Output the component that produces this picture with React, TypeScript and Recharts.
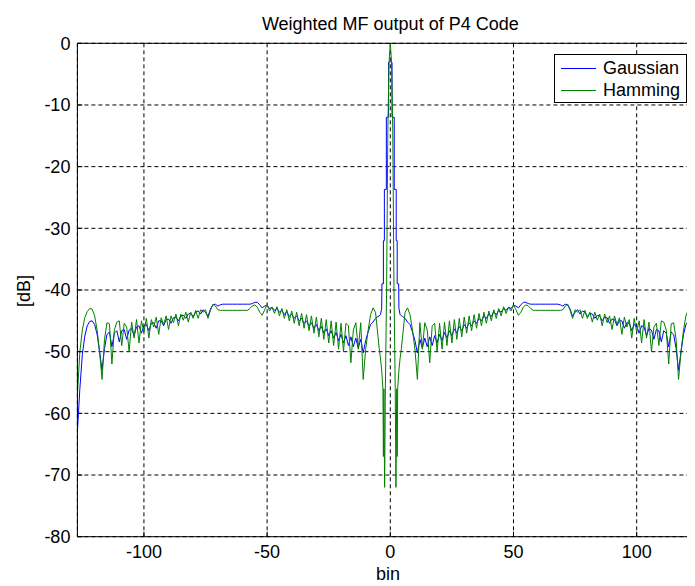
import React from "react";
import {
  CartesianGrid,
  Line,
  LineChart,
  ReferenceLine,
  XAxis,
  YAxis,
} from "recharts";

// integer bins away from the main lobe
const range = (a: number, b: number) =>
  Array.from({ length: b - a + 1 }, (_, i) => a + i);
const leftBins = range(-127, -5);
const rightBins = range(5, 127);

const xTicks = [-100, -50, 0, 50, 100];
const yTicks = [-80, -70, -60, -50, -40, -30, -20, -10, 0];

// Gaussian weighting, bins -127..-5
const gaussLeft = [
  -63, -56, -50.5, -47.5, -45.8, -45.1, -45.0, -45.6, -47.2, -50.0,
  -53.0, -49.5, -47.2, -46.8, -49.2, -47.0, -46.6, -48.4, -46.6, -46.4,
  -48.0, -46.5, -46.2, -47.4, -46.0, -45.8, -47.0, -45.8, -45.6, -46.6,
  -45.4, -45.3, -46.2, -45.0, -45.0, -45.8, -44.8, -44.7, -45.4, -44.5,
  -44.4, -45.0, -44.2, -44.1, -44.6, -43.9, -43.8, -44.3, -43.6, -43.4,
  -43.9, -43.2, -43.6, -44.3, -43.1, -42.4, -42.3, -42.6, -42.4, -42.3,
  -42.3, -42.3, -42.3, -42.3, -42.3, -42.3, -42.3, -42.3, -42.3, -42.3,
  -42.3, -42.2, -42.0, -42.0, -42.4, -42.9, -42.6, -42.5, -43.0, -42.8,
  -43.3, -43.0, -43.6, -43.3, -44.0, -43.5, -44.3, -43.9, -44.6, -44.2,
  -45.0, -44.6, -45.4, -45.0, -45.8, -45.3, -46.2, -45.6, -46.6, -45.9,
  -47.0, -46.3, -47.4, -46.6, -47.8, -46.9, -48.2, -47.2, -48.6, -47.4,
  -49.0, -47.6, -49.2, -47.8, -49.4, -48.0, -50.2, -48.2, -46.8, -45.6,
  -45.2, -44.6, -44.3,
];

// Gaussian main lobe (fine steps)
const gaussCoreBins = [
  -4.5, -4, -3.5, -3.4, -2.8, -2.8, -2.4, -2.4, -1.6, -1.6, -0.7, -0.7, 0,
  0.7, 0.7, 1.6, 1.6, 2.4, 2.4, 2.8, 2.8, 3.4, 3.5, 4, 4.5,
];
const gaussCore = [
  -44.2, -44.0, -43.0, -39.0, -39.0, -32.0, -32.0, -23.7, -23.7, -12.0,
  -12.0, -3.1, -3.0, -3.1, -12.0, -12.0, -23.7, -23.7, -32.0, -32.0, -39.0,
  -39.0, -43.0, -44.0, -44.2,
];

// Gaussian, bins 5..127
const gaussRight = [
  -44.3, -44.6, -45.2,
  -45.6, -46.8, -48.2, -50.2, -48.0, -49.4, -47.8, -49.2, -47.6, -49.0,
  -47.4, -48.6, -47.2, -48.2, -46.9, -47.8, -46.6, -47.4, -46.3, -47.0,
  -45.9, -46.6, -45.6, -46.2, -45.3, -45.8, -45.0, -45.4, -44.6, -45.0,
  -44.2, -44.6, -43.9, -44.3, -43.5, -44.0, -43.3, -43.6, -43.0, -43.3,
  -42.8, -43.0, -42.5, -42.6, -42.9, -42.4, -42.0, -42.0, -42.2, -42.3,
  -42.3, -42.3, -42.3, -42.3, -42.3, -42.3, -42.3, -42.3, -42.3, -42.3,
  -42.3, -42.4, -42.6, -42.3, -42.4, -43.1, -44.3, -43.6, -43.2, -43.9,
  -43.4, -43.6, -44.3, -43.8, -43.9, -44.6, -44.1, -44.2, -45.0, -44.4,
  -44.5, -45.4, -44.7, -44.8, -45.8, -45.0, -45.0, -46.2, -45.3, -45.4,
  -46.6, -45.6, -45.8, -47.0, -45.8, -46.0, -47.4, -46.2, -46.5, -48.0,
  -46.4, -46.6, -48.4, -46.6, -47.0, -49.2, -46.8, -47.2, -49.5, -53.0,
  -50.0, -47.2, -45.6, -45.0, -45.1, -45.8, -47.5, -50.5, -56, -63,
];

// Hamming weighting, bins -127..-5
const hammLeft = [
  -57, -50, -46.5, -44.5, -43.5, -43.0, -43.1, -44.2, -46.5, -50.0,
  -54.5, -48.0, -45.3, -45.5, -52.0, -46.5, -45.2, -45.0, -49.0, -45.4,
  -46.0, -50.0, -45.2, -47.8, -44.8, -48.6, -45.0, -46.8, -44.6, -47.8,
  -44.8, -46.0, -44.4, -47.2, -44.5, -45.6, -44.2, -46.4, -44.2, -45.3,
  -43.9, -45.8, -43.9, -44.9, -43.6, -45.2, -43.6, -44.6, -43.3, -44.6,
  -43.2, -43.6, -43.2, -44.6, -43.3, -42.3, -42.6, -43.2, -43.3, -43.3,
  -43.3, -43.3, -43.3, -43.3, -43.3, -43.3, -43.3, -43.3, -43.3, -43.3,
  -43.0, -42.6, -42.4, -42.8, -43.6, -44.1, -43.2, -42.4, -43.4, -42.8,
  -43.8, -42.7, -44.2, -43.0, -44.6, -43.2, -45.0, -43.4, -45.4, -43.6,
  -45.8, -43.8, -46.2, -44.0, -46.6, -44.2, -47.0, -44.4, -47.6, -44.6,
  -48.0, -44.8, -48.6, -45.0, -49.0, -45.2, -49.6, -45.4, -50.0, -45.4,
  -45.8, -51.8, -46.5, -45.3, -49.6, -45.3, -54.5, -49.6, -46.5, -44.0,
  -42.9, -43.6, -47.5,
];

// Hamming main lobe and nulls
const hammCoreBins = [
  -4.5, -4, -3.5, -3, -2.8, -2.6, -2.3, -2, -1.5, -1, -0.5, 0, 0.5, 1, 1.5,
  2, 2.3, 2.6, 2.8, 3, 3.5, 4, 4.5,
];
const hammCore = [
  -49.5, -51, -53, -56, -67, -56, -72, -56, -40, -14, -3, 0, -3, -14, -40,
  -56, -72, -56, -67, -56, -53, -51, -49.5,
];

// Hamming, bins 5..127
const hammRight = [
  -47.5, -43.6, -42.9,
  -44.0, -46.5, -49.6, -54.5, -45.3, -49.6, -45.3, -46.5, -51.8, -45.8,
  -45.4, -50.0, -45.4, -49.6, -45.2, -49.0, -45.0, -48.6, -44.8, -48.0,
  -44.6, -47.6, -44.4, -47.0, -44.2, -46.6, -44.0, -46.2, -43.8, -45.8,
  -43.6, -45.4, -43.4, -45.0, -43.2, -44.6, -43.0, -44.2, -42.7, -43.8,
  -42.8, -43.4, -42.4, -43.2, -44.1, -43.6, -42.8, -42.4, -42.6, -43.0,
  -43.3, -43.3, -43.3, -43.3, -43.3, -43.3, -43.3, -43.3, -43.3, -43.3,
  -43.3, -43.3, -43.2, -42.6, -42.3, -43.3, -44.6, -43.2, -43.6, -43.2,
  -44.6, -43.3, -44.6, -43.6, -45.2, -43.6, -44.9, -43.9, -45.8, -43.9,
  -45.3, -44.2, -46.4, -44.2, -45.6, -44.5, -47.2, -44.4, -46.0, -44.8,
  -47.8, -44.6, -46.8, -45.0, -48.6, -44.8, -47.8, -45.2, -50.0, -46.0,
  -45.4, -49.0, -45.0, -45.2, -46.5, -52.0, -45.5, -45.3, -48.0, -54.5,
  -50.0, -46.5, -44.2, -43.1, -43.0, -43.5, -44.5, -46.5, -50, -57,
];

const toRows = (bins: number[], vals: number[]) =>
  bins.map((bin, i) => ({ bin, db: vals[i] }));

const gaussData = [
  ...toRows(leftBins, gaussLeft),
  ...toRows(gaussCoreBins, gaussCore),
  ...toRows(rightBins, gaussRight),
];
const hammData = [
  ...toRows(leftBins, hammLeft),
  ...toRows(hammCoreBins, hammCore),
  ...toRows(rightBins, hammRight),
];

const FONT = "'Liberation Sans', Arial, sans-serif";
const BLUE = "#0000ff";
const GREEN = "#008000";

const LegendBox = () => (
  <div
    style={{
      position: "absolute",
      left: 546,
      top: 46,
      width: 133,
      height: 49,
      border: "1px solid #000",
      background: "#fff",
      fontFamily: FONT,
      fontSize: 18,
      color: "#000",
      boxSizing: "border-box",
      paddingTop: 2,
    }}
  >
    {[
      { name: "Gaussian", color: BLUE },
      { name: "Hamming", color: GREEN },
    ].map((s) => (
      <div key={s.name} style={{ display: "flex", alignItems: "center", height: 22 }}>
        <div
          style={{ width: 35, height: 1, background: s.color, marginLeft: 6, marginRight: 7 }}
        />
        <span>{s.name}</span>
      </div>
    ))}
  </div>
);

export default function App() {
  return (
    <div style={{ position: "relative", width: 687, height: 578, overflow: "hidden" }}>
      <LineChart
        width={720}
        height={578}
        margin={{ top: 35.3, right: 24.8, bottom: 19.3, left: 9.4 }}
        style={{ fontFamily: FONT }}
      >
        <CartesianGrid stroke="#000" strokeDasharray="4 3" />
        <XAxis
          type="number"
          dataKey="bin"
          domain={[-127, 127]}
          ticks={xTicks}
          allowDataOverflow
          height={30}
          stroke="#000"
          tickSize={-5}
          tickMargin={14}
          tick={{ fill: "#000", fontSize: 18 }}
        />
        <XAxis
          xAxisId="top"
          orientation="top"
          type="number"
          domain={[-127, 127]}
          ticks={xTicks}
          height={0}
          stroke="#000"
          tickSize={-5}
          tick={false}
        />
        <YAxis
          type="number"
          domain={[-80, 0]}
          ticks={yTicks}
          width={60}
          stroke="#000"
          tickSize={-5}
          tickMargin={12}
          tick={{ fill: "#000", fontSize: 18 }}
        />
        <Line
          data={gaussData}
          dataKey="db"
          type="linear"
          stroke={BLUE}
          strokeWidth={1}
          dot={false}
          isAnimationActive={false}
        />
        <Line
          data={hammData}
          dataKey="db"
          type="linear"
          stroke={GREEN}
          strokeWidth={1}
          dot={false}
          isAnimationActive={false}
        />
        <ReferenceLine y={0} stroke="#000" />
        <text x={382.3} y={22} textAnchor="middle" fontSize={18} fill="#000" fontFamily={FONT}>
          Weighted MF output of P4 Code
        </text>
        <text
          x={15.5}
          y={283}
          textAnchor="middle"
          dominantBaseline="central"
          fontSize={18}
          fill="#000"
          fontFamily={FONT}
          transform="rotate(-90 15.5 283)"
        >
          [dB]
        </text>
        <text x={380} y={572} textAnchor="middle" fontSize={18} fill="#000" fontFamily={FONT}>
          bin
        </text>
      </LineChart>
      <LegendBox />
    </div>
  );
}
